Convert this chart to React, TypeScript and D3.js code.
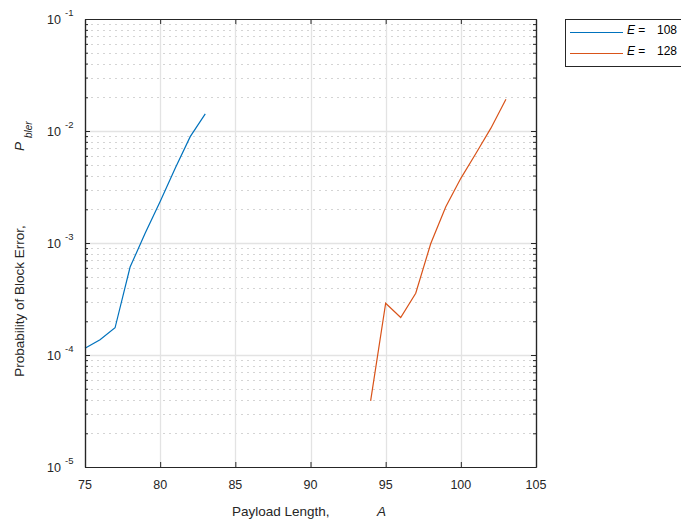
import React, { useEffect, useRef } from 'react';
import * as d3 from 'd3';

// payload length A vs block error probability, two E values
const payloadE108 = [75, 76, 77, 78, 79, 80, 81, 82, 83];
const pblerE108 = [1.15e-4, 1.37e-4, 1.75e-4, 6.1e-4, 1.22e-3, 2.35e-3, 4.65e-3, 8.9e-3, 1.42e-2];
const payloadE128 = [94, 95, 96, 97, 98, 99, 100, 101, 102, 103];
const pblerE128 = [3.9e-5, 2.9e-4, 2.16e-4, 3.56e-4, 9.9e-4, 2.11e-3, 3.78e-3, 6.3e-3, 1.06e-2, 1.92e-2];
const xTicks = [75, 80, 85, 90, 95, 100, 105];
const yExponents = [-1, -2, -3, -4, -5];
const legendValues = ['108', '128'];

const FONT = '"Liberation Sans", Arial, Helvetica, sans-serif';

const App = () => {
  const ref = useRef<SVGSVGElement>(null);

  useEffect(() => {
    const svg = d3.select(ref.current);
    svg.selectAll('*').remove();

    const margin = { top: 19, left: 85 };
    const width = 451;
    const height = 448;

    const x = d3.scaleLinear().domain([75, 105]).range([0, width]);
    const y = d3.scaleLog().domain([1e-5, 1e-1]).range([height, 0]);

    const g = svg.append('g').attr('transform', `translate(${margin.left},${margin.top})`);

    g.append('rect').attr('width', width).attr('height', height).attr('fill', '#fff');

    // minor grid (dotted)
    const minor: number[] = [];
    for (let e = -5; e < -1; e++) for (let m = 2; m <= 9; m++) minor.push(m * Math.pow(10, e));
    g.selectAll('.minor')
      .data(minor)
      .enter()
      .append('line')
      .attr('x1', 0)
      .attr('x2', width)
      .attr('y1', (d) => Math.round(y(d)) + 0.5)
      .attr('y2', (d) => Math.round(y(d)) + 0.5)
      .attr('stroke', '#d4d4d4')
      .attr('stroke-width', 1.2)
      .attr('stroke-dasharray', '2,4');

    // major grid
    g.selectAll('.gx')
      .data(xTicks.slice(1, -1))
      .enter()
      .append('line')
      .attr('x1', (d) => Math.round(x(d)) + 0.5)
      .attr('x2', (d) => Math.round(x(d)) + 0.5)
      .attr('y1', 0)
      .attr('y2', height)
      .attr('stroke', '#e3e3e3')
      .attr('stroke-width', 1.3);
    g.selectAll('.gy')
      .data(yExponents.slice(1, -1))
      .enter()
      .append('line')
      .attr('x1', 0)
      .attr('x2', width)
      .attr('y1', (d) => Math.round(y(Math.pow(10, d))) + 0.5)
      .attr('y2', (d) => Math.round(y(Math.pow(10, d))) + 0.5)
      .attr('stroke', '#e3e3e3')
      .attr('stroke-width', 1.3);

    // data lines
    const line = d3
      .line<[number, number]>()
      .x((d) => x(d[0]))
      .y((d) => y(d[1]));
    g.append('path')
      .datum(payloadE108.map((a, i) => [a, pblerE108[i]] as [number, number]))
      .attr('d', line)
      .attr('fill', 'none')
      .attr('stroke', '#0072BD')
      .attr('stroke-width', 1.2);
    g.append('path')
      .datum(payloadE128.map((a, i) => [a, pblerE128[i]] as [number, number]))
      .attr('d', line)
      .attr('fill', 'none')
      .attr('stroke', '#D95319')
      .attr('stroke-width', 1.2);

    // axes with inward ticks, box on
    const axisColor = '#262626';
    const styleAxis = (sel: any) => {
      sel.select('.domain').attr('stroke', axisColor);
      sel.selectAll('.tick line').attr('stroke', axisColor);
    };
    g.append('g')
      .attr('transform', `translate(0,${height})`)
      .call(d3.axisBottom(x).tickValues(xTicks).tickSize(-5).tickSizeOuter(0).tickFormat(() => ''))
      .call(styleAxis);
    g.append('g')
      .call(d3.axisTop(x).tickValues(xTicks).tickSize(-5).tickSizeOuter(0).tickFormat(() => ''))
      .call(styleAxis);
    const majorY = yExponents.map((e) => Math.pow(10, e));
    g.append('g')
      .call(d3.axisLeft(y).tickValues(majorY).tickSize(-5).tickSizeOuter(0).tickFormat(() => ''))
      .call(styleAxis);
    g.append('g')
      .call(d3.axisLeft(y).tickValues(minor).tickSize(-3).tickSizeOuter(0).tickFormat(() => ''))
      .call(styleAxis);
    g.append('g')
      .attr('transform', `translate(${width},0)`)
      .call(d3.axisRight(y).tickValues(majorY).tickSize(-5).tickSizeOuter(0).tickFormat(() => ''))
      .call(styleAxis);
    g.append('g')
      .attr('transform', `translate(${width},0)`)
      .call(d3.axisRight(y).tickValues(minor).tickSize(-3).tickSizeOuter(0).tickFormat(() => ''))
      .call(styleAxis);
    g.selectAll('.domain').attr('stroke-width', 1.2);

    // tick labels
    g.selectAll('.xl')
      .data(xTicks)
      .enter()
      .append('text')
      .attr('x', (d) => x(d))
      .attr('y', height + 22)
      .attr('text-anchor', 'middle')
      .attr('font-family', FONT)
      .attr('font-size', 12.5)
      .attr('fill', axisColor)
      .text((d) => d);

    const yl = g.selectAll('.yl').data(yExponents).enter().append('g');
    yl.append('text')
      .attr('x', -24)
      .attr('y', (d) => y(Math.pow(10, d)) + 5)
      .attr('text-anchor', 'end')
      .attr('font-family', FONT)
      .attr('font-size', 12.5)
      .attr('fill', axisColor)
      .text('10');
    yl.append('text')
      .attr('x', -20)
      .attr('y', (d) => y(Math.pow(10, d)) - 3)
      .attr('font-family', FONT)
      .attr('font-size', 9.5)
      .attr('fill', axisColor)
      .text((d) => `${d}`);

    // axis titles
    const xt = svg
      .append('text')
      .attr('y', 516)
      .attr('font-family', FONT)
      .attr('font-size', 13.5)
      .attr('fill', axisColor);
    xt.append('tspan').attr('x', 232).text('Payload Length,');
    xt.append('tspan').attr('x', 377).attr('font-style', 'italic').text('A');

    const yt = svg.append('g').attr('transform', 'rotate(-90)');
    yt.append('text')
      .attr('x', -301)
      .attr('y', 24)
      .attr('text-anchor', 'middle')
      .attr('font-family', FONT)
      .attr('font-size', 13.5)
      .attr('fill', axisColor)
      .text('Probability of Block Error,');
    yt.append('text')
      .attr('x', -151)
      .attr('y', 24)
      .attr('font-family', FONT)
      .attr('font-size', 13.5)
      .attr('font-style', 'italic')
      .attr('fill', axisColor)
      .text('P');
    yt.append('text')
      .attr('x', -138)
      .attr('y', 32)
      .attr('font-family', FONT)
      .attr('font-size', 10)
      .attr('font-style', 'italic')
      .attr('fill', axisColor)
      .text('bler');

    // legend
    const lg = svg.append('g').attr('transform', 'translate(565,19)');
    lg.append('rect')
      .attr('x', 0.5)
      .attr('y', 0.5)
      .attr('width', 118)
      .attr('height', 47)
      .attr('fill', '#fff')
      .attr('stroke', axisColor);
    const colors = ['#0072BD', '#D95319'];
    legendValues.forEach((v, i) => {
      const ly = 13 + i * 21;
      lg.append('line')
        .attr('x1', 5)
        .attr('x2', 58)
        .attr('y1', ly + 0.5)
        .attr('y2', ly + 0.5)
        .attr('stroke', colors[i])
        .attr('stroke-width', 1.2);
      const t = lg
        .append('text')
        .attr('y', ly + 1.5)
        .attr('font-family', FONT)
        .attr('font-size', 12)
        .attr('fill', '#000');
      t.append('tspan').attr('x', 62).attr('font-style', 'italic').text('E');
      t.append('tspan').text(' =');
      t.append('tspan').attr('x', 92).text(v);
    });
  }, []);

  return (
    <svg
      ref={ref}
      width={681}
      height={523}
      style={{ position: 'absolute', left: 0, top: 0, background: '#fff' }}
    ></svg>
  );
};

export default App;
